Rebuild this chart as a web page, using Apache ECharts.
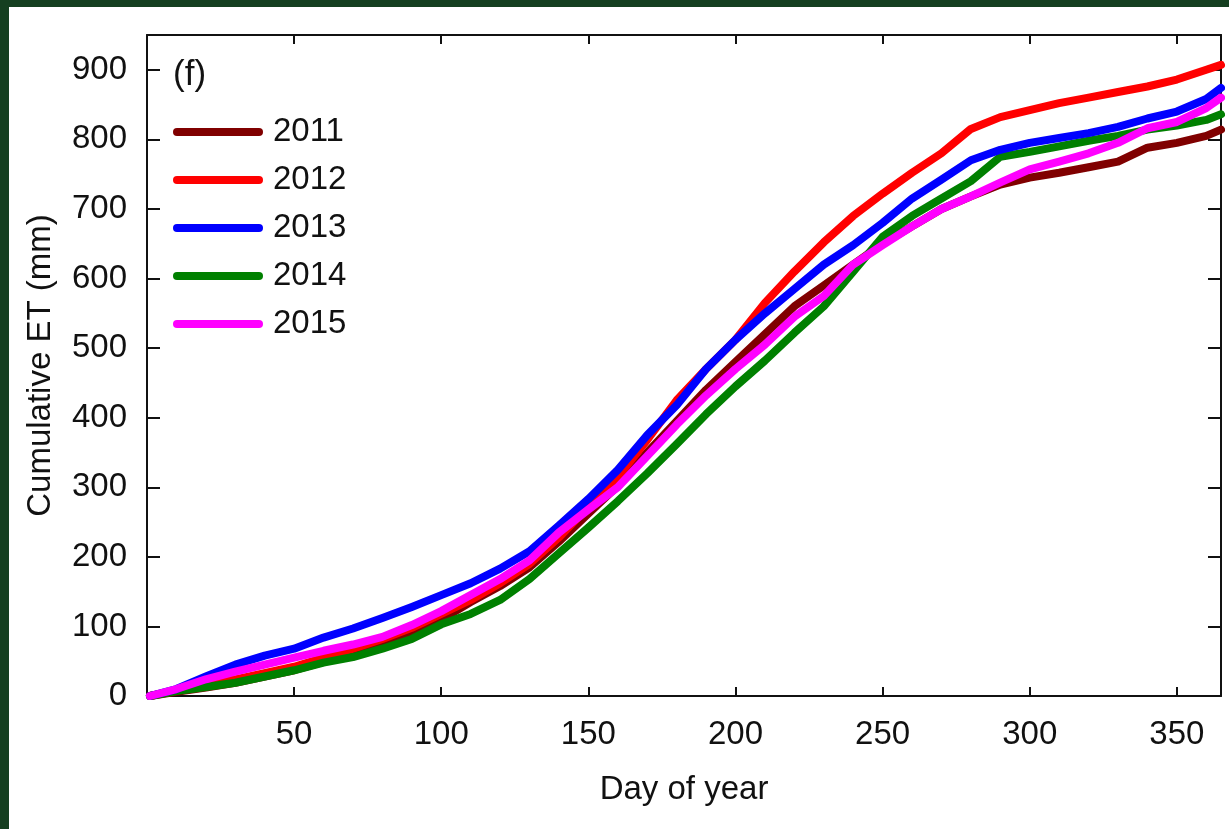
<!DOCTYPE html>
<html>
<head>
<meta charset="utf-8">
<script src="https://cdn.jsdelivr.net/npm/echarts@6/dist/echarts.min.js"></script>
<style>
  html, body { margin: 0; padding: 0; background: #153f20; width: 1229px; height: 829px; overflow: hidden; }
  #chart { position: absolute; left: 9px; top: 7px; width: 1220px; height: 822px; background: #ffffff; }
</style>
</head>
<body>
<div id="chart"></div>
<script>
// Day of year sample positions
const days = [1, 10, 20, 30, 40, 50, 60, 70, 80, 90, 100, 110, 120, 130, 140, 150, 160, 170, 180, 190, 200, 210, 220, 230, 240, 250, 260, 270, 280, 290, 300, 310, 320, 330, 340, 350, 360, 365];

// Cumulative ET (mm) per year
const et2011 = [0, 6, 12, 19, 28, 37, 49, 61, 74, 89, 110, 135, 158, 185, 222, 262, 302, 350, 395, 440, 480, 520, 560, 590, 620, 650, 675, 700, 718, 735, 745, 752, 760, 768, 788, 795, 805, 814];
const et2012 = [0, 8, 16, 24, 33, 42, 55, 68, 82, 98, 118, 138, 162, 190, 228, 272, 315, 368, 425, 470, 512, 565, 610, 652, 690, 722, 752, 780, 815, 832, 842, 852, 860, 868, 876, 886, 900, 907];
const et2013 = [0, 10, 28, 45, 58, 68, 84, 97, 112, 128, 145, 162, 183, 208, 245, 283, 325, 375, 418, 470, 512, 550, 585, 620, 648, 680, 715, 742, 770, 785, 795, 802, 809, 818, 830, 840, 858, 874];
const et2014 = [0, 7, 13, 19, 28, 37, 48, 56, 68, 82, 103, 118, 138, 168, 205, 242, 280, 320, 362, 405, 445, 482, 522, 560, 610, 660, 690, 715, 740, 775, 782, 790, 798, 805, 814, 820, 828, 836];
const et2015 = [0, 10, 24, 35, 45, 55, 65, 74, 85, 102, 122, 145, 168, 195, 235, 268, 300, 345, 390, 432, 470, 505, 545, 575, 620, 648, 675, 700, 718, 738, 757, 768, 780, 795, 816, 825, 845, 860];

const years = ['2011', '2012', '2013', '2014', '2015'];
const colors = ['#800000', '#ff0000', '#0000ff', '#008000', '#ff00ff'];
const values = [et2011, et2012, et2013, et2014, et2015];
const zOrder = [2, 3, 5, 4, 6];

const FONT = 'Liberation Sans, Arial, sans-serif';
const TXT = '#111111';

const GRID = { left: 138, right: 8, top: 28, bottom: 133 };
const PLOT_W = 1220 - GRID.left - GRID.right;
const PLOT_H = 822 - GRID.top - GRID.bottom;

const chart = echarts.init(document.getElementById('chart'), null, { renderer: 'canvas' });

const axisLineStyle = { color: TXT, width: 2 };
const X_RANGE = { type: 'value', min: 0, max: 365, interval: 50, splitLine: { show: false } };
const Y_RANGE = { type: 'value', min: 0, max: 950, interval: 100, splitLine: { show: false } };

// Tick-only axis placed on the opposite side so its outward ticks point into the plot
function tickAxis(base, position, offset, len) {
  return Object.assign({}, base, {
    position: position, offset: offset,
    axisLine: { show: false, onZero: false },
    axisTick: { show: true, length: len, lineStyle: axisLineStyle },
    axisLabel: { show: false }
  });
}

const option = {
  animation: false,
  backgroundColor: '#ffffff',
  grid: Object.assign({ containLabel: false }, GRID),
  legend: {
    data: years,
    orient: 'vertical',
    left: 159,
    top: 100,
    itemWidth: 90,
    itemHeight: 8,
    itemGap: 8,
    icon: 'path://M4,0 L86,0 A4,4 0 0 1 86,8 L4,8 A4,4 0 0 1 4,0 Z',
    textStyle: { fontSize: 33, fontFamily: FONT, color: TXT, lineHeight: 40, padding: [0, 0, 0, 5] },
    selectedMode: false
  },
  graphic: [{
    type: 'text', x: 164, y: 68,
    style: { text: '(f)', font: '35px ' + FONT, fill: TXT, verticalAlign: 'middle', align: 'left' }
  }],
  xAxis: [
    Object.assign({}, X_RANGE, {
      position: 'bottom',
      axisLine: { show: true, onZero: false, lineStyle: axisLineStyle },
      axisTick: { show: false },
      axisLabel: { fontSize: 33, fontFamily: FONT, color: TXT, margin: 22, showMinLabel: false, showMaxLabel: false },
      name: 'Day of year', nameLocation: 'middle', nameGap: 77,
      nameTextStyle: { fontSize: 33, fontFamily: FONT, color: TXT }
    }),
    Object.assign({}, X_RANGE, {
      position: 'top',
      axisLine: { show: true, onZero: false, lineStyle: axisLineStyle },
      axisTick: { show: false },
      axisLabel: { show: false }
    }),
    tickAxis(X_RANGE, 'top', -PLOT_H, 9),
    tickAxis(X_RANGE, 'bottom', -PLOT_H, 9)
  ],
  yAxis: [
    Object.assign({}, Y_RANGE, {
      position: 'left',
      axisLine: { show: true, onZero: false, lineStyle: axisLineStyle },
      axisTick: { show: false },
      axisLabel: { fontSize: 33, fontFamily: FONT, color: TXT, margin: 20, showMaxLabel: false },
      name: 'Cumulative ET (mm)', nameLocation: 'middle', nameGap: 90,
      nameTextStyle: { fontSize: 33, fontFamily: FONT, color: TXT }
    }),
    Object.assign({}, Y_RANGE, {
      position: 'right',
      axisLine: { show: true, onZero: false, lineStyle: axisLineStyle },
      axisTick: { show: false },
      axisLabel: { show: false }
    }),
    tickAxis(Y_RANGE, 'right', -PLOT_W, 13),
    tickAxis(Y_RANGE, 'left', -PLOT_W, 13)
  ],
  series: years.map((y, k) => ({
    name: y,
    type: 'line',
    xAxisIndex: 0,
    yAxisIndex: 0,
    showSymbol: false,
    symbol: 'none',
    z: zOrder[k],
    color: colors[k],
    itemStyle: { color: colors[k] },
    lineStyle: { color: colors[k], width: 8, cap: 'round', join: 'round' },
    data: days.map((d, i) => [d, values[k][i]])
  }))
};

chart.setOption(option);
</script>
</body>
</html>
